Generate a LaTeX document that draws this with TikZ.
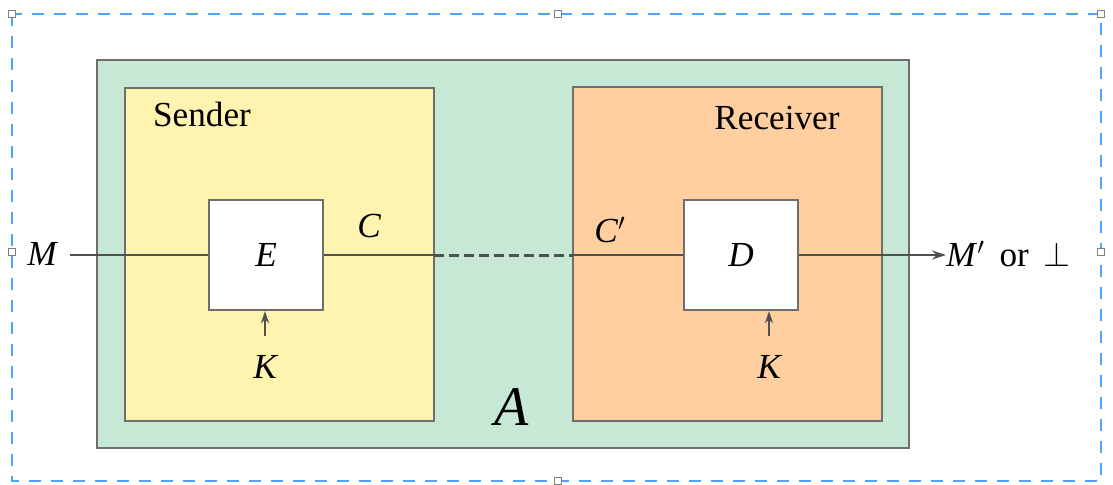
\documentclass[tikz,border=0pt]{standalone}
\usepackage{fontspec}
\setmainfont{Liberation Serif}
\usetikzlibrary{arrows.meta}
\definecolor{outergreen}{HTML}{C8E8D6}
\definecolor{sendyellow}{HTML}{FFF3B0}
\definecolor{recvorange}{HTML}{FFCFA0}
\definecolor{edgegray}{HTML}{6E6E6E}
\definecolor{linegray}{HTML}{505050}
\definecolor{selblue}{HTML}{4DA3FF}
\tikzset{
  panel/.style={draw=edgegray, line width=1.2pt},
  fnbox/.style={draw=edgegray, fill=white, line width=1.2pt, minimum width=57pt, minimum height=55pt, inner sep=0pt, font=\fontsize{17.6}{20}\selectfont\itshape},
  lbl/.style={inner sep=0pt, font=\fontsize{17.6}{20}\selectfont},
  ilbl/.style={inner sep=0pt, font=\fontsize{17.6}{20}\selectfont\itshape},
  sig/.style={draw=linegray, line width=0.8pt},
  keyarrow/.style={draw=linegray, line width=0.8pt, -{Stealth[length=6pt,width=4pt]}},
  handle/.style={draw=gray, fill=white, line width=0.6pt, minimum size=3.5pt, inner sep=0pt},
}
\begin{document}
\begin{tikzpicture}[x=0.5pt, y=-0.5pt]
\useasboundingbox (0,0) rectangle (1113,484);
% selection frame
\draw[selblue, line width=1pt, dash pattern=on 6pt off 5pt] (12,14) rectangle (1101,481);
\node[handle] (h1) at (12,14) {};
\node[handle] (h2) at (558,14) {};
\node[handle] (h3) at (1101,14) {};
\node[handle] (h4) at (12,252) {};
\node[handle] (h5) at (1101,252) {};
\node[handle] (h6) at (558,481) {};
% panels
\draw[panel, fill=outergreen] (97,60) rectangle (909,448);
\draw[panel, fill=sendyellow] (125,88) rectangle (434,421);
\draw[panel, fill=recvorange] (573,87) rectangle (882,421);
\node[lbl] (sender) at (202,114) {Sender};
\node[lbl] (receiver) at (777,118) {Receiver};
\node[inner sep=0pt, font=\fontsize{28}{30}\selectfont\itshape] (A) at (512,407) {A};
% function boxes
\node[fnbox] (E) at (266,255) {E};
\node[fnbox] (D) at (741,255) {D};
% signal line
\coordinate (min) at (70,255);
\coordinate (sendR) at (434,255);
\coordinate (recvL) at (573,255);
\node[ilbl] (M) at (42,254) {M};
\node[inner sep=0pt, anchor=west, font=\fontsize{17.6}{20}\selectfont] (out) at (946,254) {\textit{M}$'$\,\ or\, $\perp$};
\draw[sig] (min) -- (E.west);
\draw[sig] (E.east) -- (sendR);
\draw[sig, line width=1.5pt, dash pattern=on 5pt off 2.5pt] (sendR) -- (recvL);
\draw[sig] (recvL) -- (D.west);
\draw[sig, -{Stealth[length=7pt,width=4.5pt]}] (D.east) -- (D.east -| out.west);
\node[ilbl] (C) at (369,226) {C};
\node[inner sep=0pt, font=\fontsize{17.6}{20}\selectfont] (Cp) at (610,230) {\textit{C}$'$};
% keys
\node[ilbl] (K1) at (265,367) {K};
\node[ilbl] (K2) at (769,367) {K};
\coordinate (k1s) at (265,336);
\coordinate (k2s) at (769,336);
\draw[keyarrow] (k1s) -- (k1s |- E.south);
\draw[keyarrow] (k2s) -- (k2s |- D.south);
\end{tikzpicture}
\end{document}
